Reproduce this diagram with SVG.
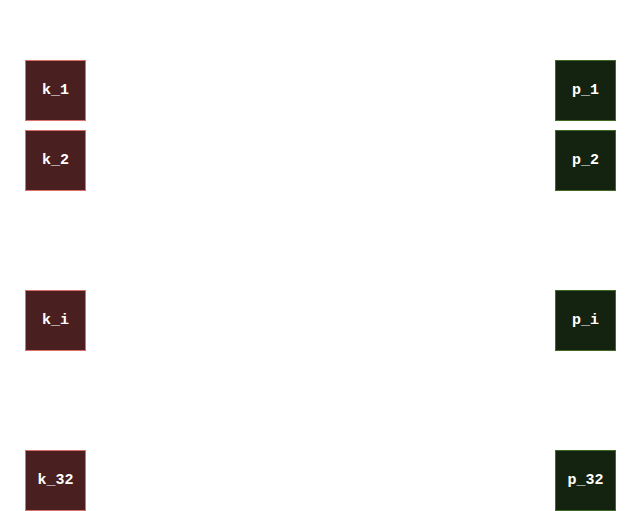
<svg xmlns="http://www.w3.org/2000/svg" width="640" height="511" viewBox="0 0 640 511">
<style>
.k rect{fill:#4a1f1f;stroke:#d9706a;stroke-width:1}
.p rect{fill:#13230f;stroke:#3f6b25;stroke-width:1}
text{fill:#ffffff;font-family:"Courier New","Liberation Mono",monospace;font-weight:bold;font-size:15px;text-anchor:middle;dominant-baseline:central}
</style>
<rect width="640" height="511" fill="#ffffff"/>
<g id="k_1" class="k"><rect x="25.5" y="60.5" width="60" height="60"/><text x="55.5" y="90">k_1</text></g>
<g id="k_2" class="k"><rect x="25.5" y="130.5" width="60" height="60"/><text x="55.5" y="160">k_2</text></g>
<g id="k_i" class="k"><rect x="25.5" y="290.5" width="60" height="60"/><text x="55.5" y="320">k_i</text></g>
<g id="k_32" class="k"><rect x="25.5" y="450.5" width="60" height="60"/><text x="55.5" y="480">k_32</text></g>
<g id="p_1" class="p"><rect x="555.5" y="60.5" width="60" height="60"/><text x="585.5" y="90">p_1</text></g>
<g id="p_2" class="p"><rect x="555.5" y="130.5" width="60" height="60"/><text x="585.5" y="160">p_2</text></g>
<g id="p_i" class="p"><rect x="555.5" y="290.5" width="60" height="60"/><text x="585.5" y="320">p_i</text></g>
<g id="p_32" class="p"><rect x="555.5" y="450.5" width="60" height="60"/><text x="585.5" y="480">p_32</text></g>
<g id="connectors"></g>
</svg>
